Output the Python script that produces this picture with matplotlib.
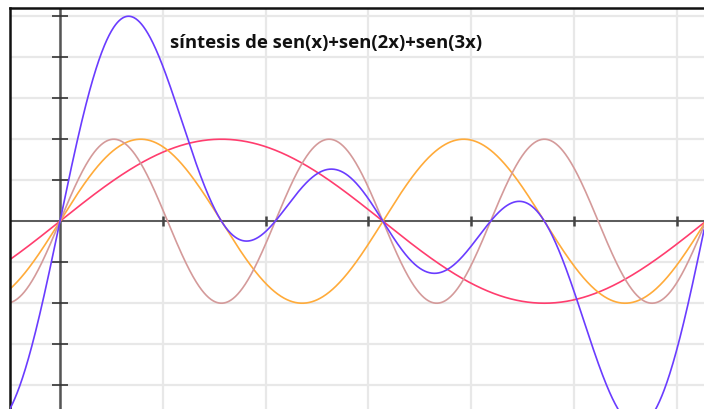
import matplotlib.pyplot as plt
import numpy as np

# funciones dibujadas: sen(k*x) para cada armónico y su suma
harmonics = [1, 2, 3]
colors = ['#ff3d6e', '#ffab3a', '#d49a9a']
sum_color = '#6a3cff'
title = 'síntesis de sen(x)+sen(2x)+sen(3x)'

x_ticks = [1, 2, 3, 4, 5, 6]
y_ticks = [-2, -1.5, -1, -0.5, 0.5, 1, 1.5, 2, 2.5]
x_min, x_max = -0.486, 6.265
y_min, y_max = -2.29, 2.60

x = np.linspace(x_min, x_max, 1500)

fig = plt.figure(figsize=(7.04, 4.10), dpi=100)
ax = fig.add_axes([10 / 704, 0, 694 / 704, 401 / 410])

# rejilla
for gx in [0] + x_ticks:
    ax.axvline(gx, color='#e8e8e8', lw=1.6, zorder=0)
for gy in [0] + y_ticks:
    ax.axhline(gy, color='#e8e8e8', lw=1.6, zorder=0)

# ejes
ax.axhline(0, color='#333333', lw=1.1, zorder=1)
ax.axvline(0, color='#555555', lw=1.8, zorder=1)
ax.plot(x_ticks, [0] * len(x_ticks), ls='none', marker='|', ms=7,
        mew=1.8, color='#444444', zorder=1)
ax.plot([0] * len(y_ticks), y_ticks, ls='none', marker='_', ms=12,
        mew=1.2, color='#333333', zorder=1)

total = np.zeros_like(x)
for k, c in zip(harmonics, colors):
    y = np.sin(k * x)
    total += y
    ax.plot(x, y, color=c, lw=1.2, zorder=2)
ax.plot(x, total, color=sum_color, lw=1.2, zorder=3)

ax.text(1.07, 2.18, title, fontsize=13.3, fontweight='bold',
        family=['Open Sans', 'DejaVu Sans'], color='#111111', va='center')

ax.set_xlim(x_min, x_max)
ax.set_ylim(y_min, y_max)
ax.set_xticks([])
ax.set_yticks([])
for s in ['right', 'bottom']:
    ax.spines[s].set_visible(False)
for s in ['top', 'left']:
    ax.spines[s].set_linewidth(1.8)
    ax.spines[s].set_color('#111111')

fig.savefig('out.png', dpi=100)
